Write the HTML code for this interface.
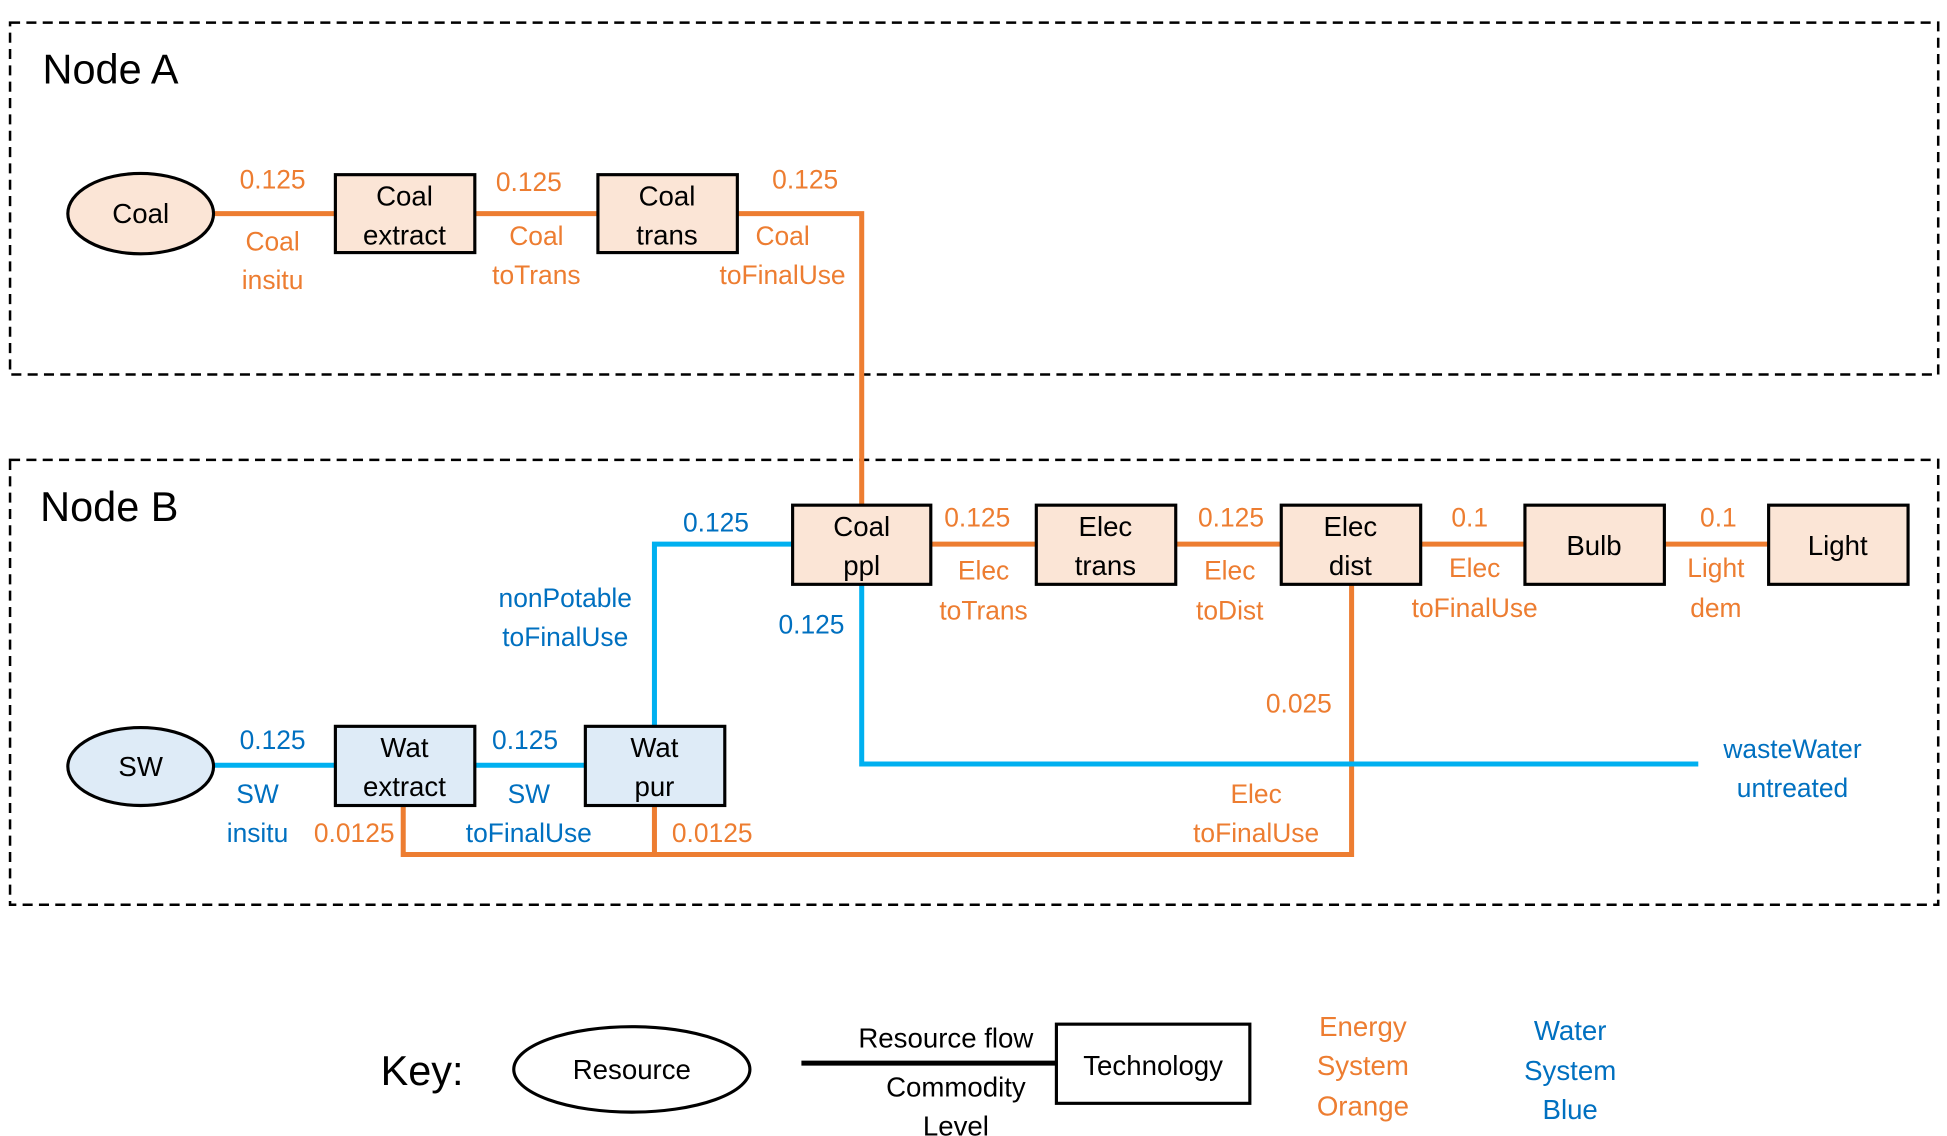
<!DOCTYPE html>
<html><head><meta charset="utf-8"><style>
html,body{margin:0;padding:0;background:#fff;}
svg{display:block;}
text{font-family:"Liberation Sans",sans-serif;dominant-baseline:central;text-anchor:middle;}
.o{fill:#ed7d31;font-size:21px;}
.b{fill:#0070c0;font-size:21px;}
.k{fill:#000;font-size:22px;}
</style></head><body>
<svg width="1947" height="1136" viewBox="0 0 1550 904" preserveAspectRatio="none" xmlns="http://www.w3.org/2000/svg">
<rect x="8" y="18" width="1535" height="280" fill="none" stroke="#000" stroke-width="2" stroke-dasharray="8,5"/>
<rect x="8" y="366" width="1535" height="354" fill="none" stroke="#000" stroke-width="2" stroke-dasharray="8,5"/>
<text x="88" y="55" style="font-size:33px;fill:#000">Node A</text>
<text x="87" y="403" style="font-size:33px;fill:#000">Node B</text>

<g fill="none" stroke="#ed7d31" stroke-width="4">
<path d="M170 170H267M378 170H476M587 170H686V402"/>
<path d="M741 433H825M936 433H1020M1131 433H1214M1325 433H1408"/>
<path d="M1076 465V680H321V641M521 641V680"/>
</g>
<g fill="none" stroke="#00b0f0" stroke-width="4">
<path d="M631 433H521V578"/>
<path d="M686 465V608H1352"/>
<path d="M170 609H267M378 609H466"/>
</g>

<g stroke="#000" stroke-width="2.5" fill="#fbe5d6">
<ellipse cx="112" cy="170" rx="58" ry="32"/>
<rect x="267" y="139" width="111" height="62"/>
<rect x="476" y="139" width="111" height="62"/>
<rect x="631" y="402" width="110" height="63"/>
<rect x="825" y="402" width="111" height="63"/>
<rect x="1020" y="402" width="111" height="63"/>
<rect x="1214" y="402" width="111" height="63"/>
<rect x="1408" y="402" width="111" height="63"/>
</g>
<g stroke="#000" stroke-width="2.5" fill="#deebf7">
<ellipse cx="112" cy="610" rx="58" ry="31"/>
<rect x="267" y="578" width="111" height="63"/>
<rect x="466" y="578" width="111" height="63"/>
</g>

<text class="k" x="112" y="170">Coal</text>
<text class="k" x="322" y="156">Coal</text><text class="k" x="322" y="187">extract</text>
<text class="k" x="531" y="156">Coal</text><text class="k" x="531" y="187">trans</text>
<text class="k" x="686" y="419">Coal</text><text class="k" x="686" y="450">ppl</text>
<text class="k" x="880" y="419">Elec</text><text class="k" x="880" y="450">trans</text>
<text class="k" x="1075" y="419">Elec</text><text class="k" x="1075" y="450">dist</text>
<text class="k" x="1269" y="434">Bulb</text>
<text class="k" x="1463" y="434">Light</text>
<text class="k" x="112" y="610">SW</text>
<text class="k" x="322" y="595">Wat</text><text class="k" x="322" y="626">extract</text>
<text class="k" x="521" y="595">Wat</text><text class="k" x="521" y="626">pur</text>

<text class="o" x="217" y="143">0.125</text><text class="o" x="217" y="192">Coal</text><text class="o" x="217" y="223">insitu</text>
<text class="o" x="421" y="145">0.125</text><text class="o" x="427" y="188">Coal</text><text class="o" x="427" y="219">toTrans</text>
<text class="o" x="641" y="143">0.125</text><text class="o" x="623" y="188">Coal</text><text class="o" x="623" y="219">toFinalUse</text>
<text class="o" x="778" y="412">0.125</text><text class="o" x="783" y="454">Elec</text><text class="o" x="783" y="486">toTrans</text>
<text class="o" x="980" y="412">0.125</text><text class="o" x="979" y="454">Elec</text><text class="o" x="979" y="486">toDist</text>
<text class="o" x="1170" y="412">0.1</text><text class="o" x="1174" y="452">Elec</text><text class="o" x="1174" y="484">toFinalUse</text>
<text class="o" x="1368" y="412">0.1</text><text class="o" x="1366" y="452">Light</text><text class="o" x="1366" y="484">dem</text>
<text class="o" x="1034" y="560">0.025</text>
<text class="o" x="1000" y="632">Elec</text><text class="o" x="1000" y="663">toFinalUse</text>
<text class="o" x="282" y="663">0.0125</text>
<text class="o" x="567" y="663">0.0125</text>

<text class="b" x="570" y="416">0.125</text>
<text class="b" x="450" y="476">nonPotable</text><text class="b" x="450" y="507">toFinalUse</text>
<text class="b" x="646" y="497">0.125</text>
<text class="b" x="1427" y="596">wasteWater</text><text class="b" x="1427" y="627">untreated</text>
<text class="b" x="217" y="589">0.125</text><text class="b" x="205" y="632">SW</text><text class="b" x="205" y="663">insitu</text>
<text class="b" x="418" y="589">0.125</text><text class="b" x="421" y="632">SW</text><text class="b" x="421" y="663">toFinalUse</text>

<text x="336" y="852" style="font-size:33px;fill:#000">Key:</text>
<ellipse cx="503" cy="851" rx="94" ry="34" fill="none" stroke="#000" stroke-width="2.5"/>
<text class="k" x="503" y="851">Resource</text>
<line x1="638" y1="846" x2="841" y2="846" stroke="#000" stroke-width="4"/>
<text class="k" x="753" y="826">Resource flow</text>
<text class="k" x="761" y="865">Commodity</text><text class="k" x="761" y="896">Level</text>
<rect x="841" y="815" width="154" height="63" fill="none" stroke="#000" stroke-width="2.5"/>
<text class="k" x="918" y="848">Technology</text>
<text class="o" x="1085" y="817" style="font-size:22px">Energy</text><text class="o" x="1085" y="848" style="font-size:22px">System</text><text class="o" x="1085" y="880" style="font-size:22px">Orange</text>
<text class="b" x="1250" y="820" style="font-size:22px">Water</text><text class="b" x="1250" y="852" style="font-size:22px">System</text><text class="b" x="1250" y="883" style="font-size:22px">Blue</text>
</svg>
</body></html>
